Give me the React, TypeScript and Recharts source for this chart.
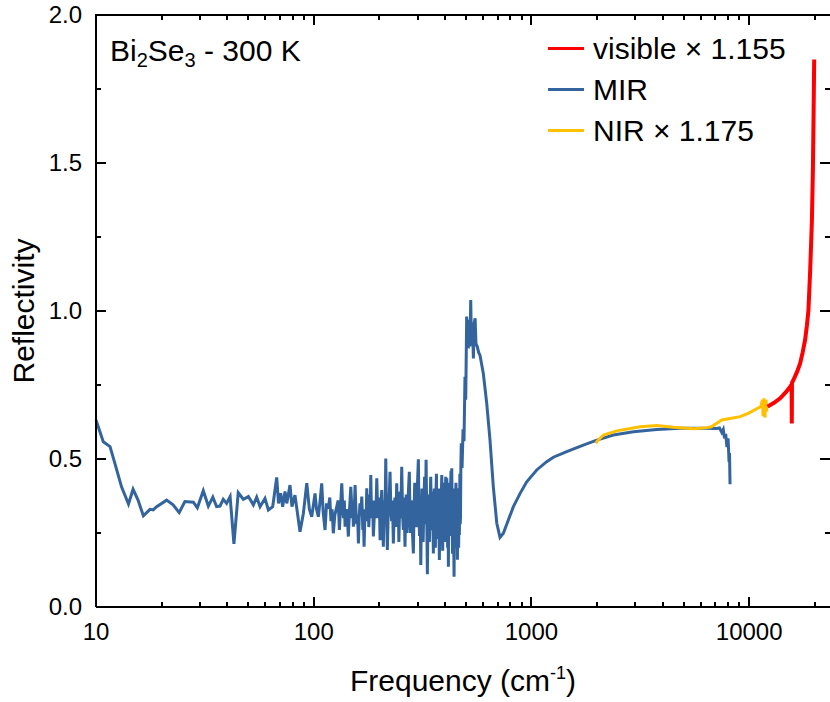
import { LineChart, Line, XAxis, YAxis, Label } from "recharts";

// MIR spectrum (blue): smooth far-IR part
const MIR_LOW_FREQ = [
  10, 10.8, 11.6, 12.2, 13.1, 14.1, 14.8, 15.6, 16.5, 17.7, 18.3, 19.0, 21.1, 22.6, 24.1, 25.6, 28.0, 29.2,
  31.1, 32.8, 34.4, 35.8, 37.1, 38.4, 39.8, 41.3, 43.0, 45.0, 47.5, 50.1, 52.8, 54.7, 56.7, 59.7, 61.9, 64.8,
  67.6, 68.9, 70.5, 72.0, 73.8, 75.2, 77.8, 79.4, 82.0, 86.5, 89.6, 92.9, 95.5, 97.9,
];
const MIR_LOW_REFL = [
  0.632, 0.558, 0.542, 0.486, 0.406, 0.348, 0.398, 0.361, 0.308, 0.33, 0.328, 0.339, 0.361, 0.345, 0.319, 0.356,
  0.354, 0.335, 0.393, 0.341, 0.371, 0.339, 0.341, 0.364, 0.35, 0.373, 0.213, 0.386, 0.364, 0.373, 0.345, 0.371,
  0.339, 0.367, 0.328, 0.339, 0.438, 0.35, 0.384, 0.339, 0.39, 0.35, 0.412, 0.339, 0.378, 0.254, 0.316, 0.418,
  0.33, 0.305,
];

// noisy band 100 - 476 cm-1
const MIR_NOISE_FREQ = [
  101.4, 103, 105, 107, 108.8, 110.5, 112.7, 114.5, 116.7, 118.5, 120, 121.5, 123, 125, 127.6, 129.5, 131.2, 133,
  134.5, 136, 137, 138.2, 139.3, 140.5, 142, 143, 144.2, 146, 148, 149, 150, 151, 152.1, 153.5, 154.9, 156, 157.5,
  159, 160.4, 161.7, 163, 164.5, 166.2, 167, 168, 169, 170.3, 171.5, 172.5, 174, 175.2, 176, 177, 178, 179, 180,
  181, 182, 182.8, 184, 185, 186.5, 187.9, 189.5, 191, 192.8, 194.8, 196.5, 198, 200, 201.7, 203.5, 205.3, 207,
  208.8, 210, 211, 212.6, 214.2, 216, 217.8, 219.5, 221, 222.5, 224.1, 226, 228, 230, 232.1, 234, 236, 238, 240.5,
  242, 243, 244.5, 246, 247.5, 249, 251, 253.6, 256, 258, 260, 262.5, 264, 266, 268, 270, 272.5, 274.8, 276.5,
  278, 280, 282, 284.5, 286.8, 289, 291, 293.5, 296, 299, 302.4, 304, 306, 308, 310.2, 312, 314, 316, 318, 320.5,
  323, 325.5, 328.1, 330.5, 332.6, 335, 337, 338.5, 340, 342.5, 344.6, 347, 349, 351.5, 354.3, 356, 358, 360, 362,
  364, 366, 368, 370, 372, 374, 376, 377.6, 379.5, 381, 382.5, 384, 385.5, 387.3, 389, 391, 393, 395, 397, 399,
  401.5, 404, 406, 408.4, 410, 412, 413.7, 415.4, 417, 419, 421, 423, 425, 427, 428.8, 430.5, 432, 434, 435.5, 437,
  439, 441.1, 442.5, 444, 445.5, 447, 448.5, 450, 452, 453.9, 455.5, 457, 458.5, 460, 461.5, 463, 464.7, 466.5,
  468, 469, 470.5, 472, 474,
];
const MIR_NOISE_REFL = [
  0.384, 0.33, 0.305, 0.36, 0.418, 0.32, 0.26, 0.35, 0.333, 0.37, 0.29, 0.33, 0.249, 0.31, 0.339, 0.36, 0.26, 0.35,
  0.418, 0.33, 0.3, 0.36, 0.271, 0.32, 0.33, 0.29, 0.238, 0.33, 0.406, 0.36, 0.3, 0.35, 0.271, 0.33, 0.412, 0.34,
  0.28, 0.31, 0.215, 0.3, 0.35, 0.31, 0.373, 0.33, 0.26, 0.31, 0.204, 0.29, 0.33, 0.29, 0.401, 0.34, 0.3, 0.36,
  0.27, 0.32, 0.38, 0.35, 0.446, 0.33, 0.3, 0.36, 0.238, 0.3, 0.36, 0.3, 0.435, 0.33, 0.3, 0.37, 0.226, 0.34, 0.395,
  0.3, 0.204, 0.3, 0.36, 0.31, 0.502, 0.32, 0.193, 0.3, 0.34, 0.38, 0.457, 0.33, 0.29, 0.36, 0.215, 0.31, 0.37,
  0.27, 0.418, 0.33, 0.28, 0.36, 0.22, 0.31, 0.39, 0.3, 0.474, 0.31, 0.26, 0.37, 0.204, 0.3, 0.38, 0.25, 0.3, 0.4,
  0.457, 0.33, 0.25, 0.35, 0.36, 0.24, 0.181, 0.33, 0.42, 0.3, 0.27, 0.4, 0.499, 0.34, 0.24, 0.37, 0.142, 0.3,
  0.4, 0.31, 0.22, 0.35, 0.44, 0.28, 0.497, 0.3, 0.111, 0.33, 0.38, 0.27, 0.22, 0.36, 0.44, 0.29, 0.26, 0.39,
  0.181, 0.32, 0.4, 0.29, 0.2, 0.37, 0.45, 0.28, 0.23, 0.36, 0.4, 0.27, 0.159, 0.31, 0.38, 0.27, 0.24, 0.37,
  0.446, 0.3, 0.19, 0.35, 0.42, 0.28, 0.22, 0.38, 0.44, 0.3, 0.435, 0.32, 0.2, 0.36, 0.136, 0.33, 0.42, 0.29,
  0.24, 0.4, 0.46, 0.28, 0.469, 0.33, 0.18, 0.36, 0.38, 0.25, 0.102, 0.3, 0.4, 0.27, 0.2, 0.37, 0.42, 0.29, 0.401,
  0.3, 0.16, 0.33, 0.36, 0.26, 0.2, 0.38, 0.243, 0.35, 0.45, 0.28, 0.3, 0.48,
];

// reststrahlen peak, plasma dip and mid-IR plateau
const MIR_HIGH_FREQ = [
  476, 480, 485, 490, 495, 499, 504, 508, 513, 518, 522, 526, 529, 532, 536, 541, 546, 551, 556, 564, 572, 580,
  601, 623, 645, 668, 693, 717, 743, 783, 826, 887, 951, 1057, 1175, 1261, 1452, 1730, 1995, 2378, 2939, 3764,
  4815, 6160, 7102, 7300, 7480, 7600, 7700, 7800, 7900, 8000, 8080, 8120, 8165,
];
const MIR_HIGH_REFL = [
  0.553, 0.47, 0.6, 0.56, 0.778, 0.7, 0.981, 0.88, 0.879, 0.97, 0.88, 1.037, 0.93, 0.902, 0.96, 0.84, 0.96, 0.975,
  0.89, 0.879, 0.86, 0.851, 0.789, 0.688, 0.564, 0.406, 0.283, 0.235, 0.249, 0.294, 0.339, 0.384, 0.423, 0.463,
  0.491, 0.506, 0.525, 0.547, 0.564, 0.581, 0.592, 0.6, 0.604, 0.604, 0.603, 0.605, 0.59, 0.6, 0.57, 0.585, 0.54,
  0.57, 0.49, 0.52, 0.415,
];

// NIR x 1.175 (yellow)
const NIR_FREQ = [
  1982, 2000, 2066, 2140, 2465, 3155, 3764, 4487, 5545, 6387, 6700, 7482, 8165, 9100, 10000, 11300, 11500,
  11580, 11700, 11800, 11950, 12050,
];
const NIR_REFL = [
  0.553, 0.56, 0.57, 0.581, 0.595, 0.609, 0.613, 0.607, 0.602, 0.606, 0.609, 0.632, 0.637, 0.643, 0.656, 0.677,
  0.7, 0.645, 0.705, 0.64, 0.7, 0.66,
];

// visible x 1.155 (red)
const VIS_FREQ = [
  12150, 13000, 13870, 14700, 15420, 15660, 15690, 15720, 15960, 16600, 17130, 17600, 18060, 18400, 18710, 19060,
  19410, 19610, 19740, 19880,
];
const VIS_REFL = [
  0.677, 0.69, 0.705, 0.725, 0.744, 0.752, 0.62, 0.757, 0.767, 0.795, 0.823, 0.86, 0.902, 0.95, 1.003, 1.139,
  1.307, 1.476, 1.645, 1.85,
];

const X_MIN = 10;
const X_MAX = 23500;
const X_DECADES = [10, 100, 1000, 10000];
const X_TICKS = X_DECADES.flatMap((d) => [1, 2, 3, 4, 5, 6, 7, 8, 9].map((m) => d * m)).filter((v) => v <= X_MAX);
const Y_MAX = 2;
const Y_TICKS = [0, 0.25, 0.5, 0.75, 1, 1.25, 1.5, 1.75, 2];
const Y_LABELED = [0, 0.5, 1, 1.5, 2];

const BLUE = "#33649e";
const YELLOW = "#ffc000";
const RED = "#ff0000";

// legend order as in the figure
const LEGEND_NAMES = ["visible × 1.155", "MIR", "NIR × 1.175"];
const LEGEND_COLORS = [RED, BLUE, YELLOW];

const FONT = '"Liberation Sans", Arial, Helvetica, sans-serif';
const AXIS_LINE = { stroke: "#000", strokeWidth: 2 };

const CHART_W = 830;
const CHART_H = 700;
const X_AXIS_H = 90;
const Y_AXIS_W = 96;
const MARGIN = { top: 15, right: 0, bottom: 3, left: 0 };
const PLOT_LEFT = MARGIN.left + Y_AXIS_W;
const PLOT_TOP = MARGIN.top;
const PLOT_W = CHART_W - MARGIN.right - PLOT_LEFT;
const PLOT_H = CHART_H - MARGIN.bottom - X_AXIS_H - PLOT_TOP;

type Row = { f: number; mir?: number; nir?: number; vis?: number };

// one table for the chart, each row carries only its own series
const chartData: Row[] = [
  ...[...MIR_LOW_FREQ, ...MIR_NOISE_FREQ, ...MIR_HIGH_FREQ].map((f, i) => ({
    f,
    mir: [...MIR_LOW_REFL, ...MIR_NOISE_REFL, ...MIR_HIGH_REFL][i],
  })),
  ...NIR_FREQ.map((f, i) => ({ f, nir: NIR_REFL[i] })),
  ...VIS_FREQ.map((f, i) => ({ f, vis: VIS_REFL[i] })),
].sort((a, b) => a.f - b.f);

// tick positions for the inward tick marks drawn over the frame
const tickX = (v: number) =>
  PLOT_LEFT + ((Math.log10(v) - Math.log10(X_MIN)) / (Math.log10(X_MAX) - Math.log10(X_MIN))) * PLOT_W;
const tickY = (v: number) => PLOT_TOP + ((Y_MAX - v) / Y_MAX) * PLOT_H;

// eslint-disable-next-line @typescript-eslint/no-explicit-any
function BottomTick(props: any) {
  const { x, y, payload } = props;
  if (!X_DECADES.includes(payload.value)) return <g />;
  return (
    <text x={x} y={y + 33} textAnchor="middle" fontSize={24} fontFamily={FONT} fill="#000">
      {payload.value}
    </text>
  );
}

// eslint-disable-next-line @typescript-eslint/no-explicit-any
function LeftTick(props: any) {
  const { x, y, payload } = props;
  if (!Y_LABELED.includes(payload.value)) return <g />;
  return (
    <text x={x - 14} y={y} dy="0.35em" textAnchor="end" fontSize={24} fontFamily={FONT} fill="#000">
      {payload.value.toFixed(1)}
    </text>
  );
}

// eslint-disable-next-line @typescript-eslint/no-explicit-any
function XTitle({ viewBox }: any) {
  return (
    <text x={viewBox.x + viewBox.width / 2} y={viewBox.y + 84} textAnchor="middle" fontSize={30} fontFamily={FONT} fill="#000">
      Frequency (cm
      <tspan dy={-12} fontSize={18}>-1</tspan>
      <tspan dy={12}>)</tspan>
    </text>
  );
}

// eslint-disable-next-line @typescript-eslint/no-explicit-any
function YTitle({ viewBox }: any) {
  const cx = 34;
  const cy = viewBox.y + viewBox.height / 2;
  return (
    <text x={cx} y={cy} transform={`rotate(-90, ${cx}, ${cy})`} textAnchor="middle" fontSize={30} fontFamily={FONT} fill="#000">
      Reflectivity
    </text>
  );
}

const mark = (left: number, top: number, width: number, height: number) => ({
  position: "absolute" as const,
  left,
  top,
  width,
  height,
  background: "#000",
});

function FrameMarks() {
  return (
    <div style={{ position: "absolute", left: 0, top: 0, pointerEvents: "none" }}>
      <div style={mark(PLOT_LEFT - 1, PLOT_TOP - 1, PLOT_W + 1, 2)} />
      {X_TICKS.map((v) => {
        const len = X_DECADES.includes(v) ? 10 : 5;
        const x = Math.round(tickX(v));
        return (
          <div key={`x${v}`}>
            <div style={mark(x - 1, PLOT_TOP + PLOT_H - len, 2, len)} />
            <div style={mark(x - 1, PLOT_TOP, 2, len)} />
          </div>
        );
      })}
      {Y_TICKS.map((v) => {
        const len = Y_LABELED.includes(v) ? 10 : 5;
        const y = Math.round(tickY(v));
        return (
          <div key={`y${v}`}>
            <div style={mark(PLOT_LEFT, y - 1, len, 2)} />
            <div style={mark(PLOT_LEFT + PLOT_W - len, y - 1, len, 2)} />
          </div>
        );
      })}
    </div>
  );
}

export default function App() {
  return (
    <div style={{ position: "relative", width: CHART_W, height: CHART_H }}>
      <style>{"body{margin:0;overflow:hidden;background:#fff}"}</style>
      <LineChart width={CHART_W} height={CHART_H} margin={MARGIN} data={chartData}>
        <XAxis
          dataKey="f"
          type="number"
          scale="log"
          domain={[X_MIN, X_MAX]}
          ticks={X_TICKS}
          interval={0}
          tickSize={0}
          tickMargin={0}
          tick={BottomTick}
          axisLine={AXIS_LINE}
          height={X_AXIS_H}
        >
          <Label content={XTitle} />
        </XAxis>
        <YAxis
          type="number"
          domain={[0, Y_MAX]}
          ticks={Y_TICKS}
          interval={0}
          tickSize={0}
          tickMargin={0}
          tick={LeftTick}
          axisLine={AXIS_LINE}
          width={Y_AXIS_W}
        >
          <Label content={YTitle} />
        </YAxis>
        <Line dataKey="mir" name="MIR" type="linear" connectNulls stroke={BLUE} strokeWidth={3} dot={false} isAnimationActive={false} />
        <Line dataKey="nir" name="NIR × 1.175" type="linear" connectNulls stroke={YELLOW} strokeWidth={3} dot={false} isAnimationActive={false} />
        <Line dataKey="vis" name="visible × 1.155" type="linear" connectNulls stroke={RED} strokeWidth={4} dot={false} isAnimationActive={false} />
      </LineChart>
      <FrameMarks />
      <div style={{ position: "absolute", left: 548, top: 28, pointerEvents: "none" }}>
        {LEGEND_NAMES.map((name, i) => (
          <div key={name} style={{ display: "flex", alignItems: "center", height: 41 }}>
            <span style={{ display: "inline-block", width: 36, height: 3, background: LEGEND_COLORS[i], marginRight: 9 }} />
            <span style={{ fontSize: 30, fontFamily: FONT, lineHeight: "41px", color: "#000", whiteSpace: "nowrap" }}>
              {name}
            </span>
          </div>
        ))}
      </div>
      <div
        style={{
          position: "absolute",
          left: 110,
          top: 36,
          fontSize: 30,
          lineHeight: "30px",
          fontFamily: FONT,
          color: "#000",
          whiteSpace: "nowrap",
          pointerEvents: "none",
        }}
      >
        Bi<sub style={{ fontSize: 20, lineHeight: 0, verticalAlign: -6 }}>2</sub>Se
        <sub style={{ fontSize: 20, lineHeight: 0, verticalAlign: -6 }}>3</sub> - 300 K
      </div>
    </div>
  );
}
